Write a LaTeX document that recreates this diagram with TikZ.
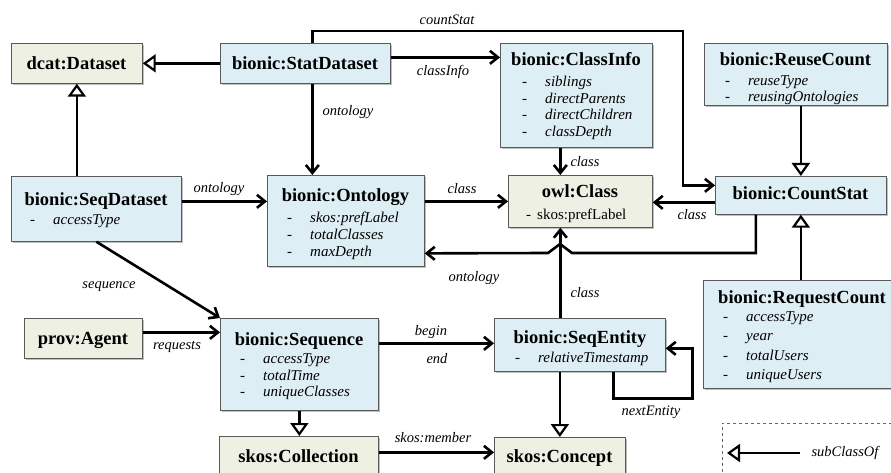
\documentclass[tikz,border=0pt]{standalone}
\usepackage{fontspec}
\setmainfont{Liberation Serif}
\usetikzlibrary{positioning,calc,arrows,arrows.meta,shadows}
\definecolor{clsgreen}{HTML}{EEF0E3}
\definecolor{clsblue}{HTML}{DEEEF5}
\newcommand{\att}[1]{\makebox[23pt][l]{-}\textit{#1}}
\tikzset{
	cls/.style={draw=black!65, line width=0.7pt, anchor=north west, inner sep=0pt,
		drop shadow={shadow xshift=1.5pt, shadow yshift=-1.5pt, opacity=0.25, fill=black}},
	gcls/.style={cls, fill=clsgreen},
	bcls/.style={cls, fill=clsblue},
	ttl/.style={font=\fontsize{18.5}{20}\selectfont\bfseries, anchor=base, inner sep=0pt},
	atts/.style={font=\fontsize{15}{16.5}\selectfont, align=left, anchor=north west, inner sep=0pt},
	lbl/.style={font=\fontsize{14.5}{16}\selectfont\itshape, inner sep=0pt},
	rel/.style={line width=2.6pt, -{Straight Barb[length=8pt,width=13pt]}},
	sub/.style={line width=2.6pt, -{Triangle[length=13pt,width=18pt,fill=white,line width=2.2pt]}},
}

\begin{document}
\begin{tikzpicture}[x=1pt, y=-1pt]
	\useasboundingbox (0,0) rectangle (891,473);
	\clip (0,0) rectangle (891,473);

	\node[gcls, minimum width=131, minimum height=40] (dataset) at (11,43) {};
	\node[bcls, minimum width=170, minimum height=40] (statds) at (220,43) {};
	\node[bcls, minimum width=152, minimum height=104] (classinfo) at (500,43) {};
	\node[bcls, minimum width=183, minimum height=62] (reusecount) at (704,43) {};
	\node[bcls, minimum width=170, minimum height=65] (seqds) at (11,176) {};
	\node[bcls, minimum width=157, minimum height=91] (ontology) at (267,175) {};
	\node[gcls, minimum width=144, minimum height=52] (owlclass) at (508,175) {};
	\node[bcls, minimum width=171, minimum height=38] (countstat) at (715,176) {};
	\node[bcls, minimum width=200, minimum height=108] (requestcount) at (703,280) {};
	\node[gcls, minimum width=118, minimum height=40] (agent) at (24,318) {};
	\node[bcls, minimum width=158, minimum height=92] (sequence) at (220,318) {};
	\node[bcls, minimum width=171, minimum height=53] (seqentity) at (494,318) {};
	\node[gcls, minimum width=159, minimum height=60] (collection) at (219,436) {};
	\node[gcls, minimum width=131, minimum height=60] (concept) at (494,437) {};
	\node[draw=black!60, line width=0.8pt, dashed, anchor=north west, minimum width=200, minimum height=70] (legend) at (722,423) {};

	\node[ttl] (dataset-t) at (76.5,70) {dcat:Dataset};
	\node[ttl] (statds-t) at (305,70) {bionic:StatDataset};
	\node[ttl] (classinfo-t) at (576,66) {bionic:ClassInfo};
	\node[ttl] (reusecount-t) at (795.5,66) {bionic:ReuseCount};
	\node[ttl] (seqds-t) at (96,206) {bionic:SeqDataset};
	\node[ttl] (ontology-t) at (345.5,202) {bionic:Ontology};
	\node[ttl] (owlclass-t) at (580,198) {owl:Class};
	\node[ttl] (countstat-t) at (800.5,200) {bionic:CountStat};
	\node[ttl] (requestcount-t) at (802,303) {bionic:RequestCount};
	\node[ttl] (agent-t) at (83,344) {prov:Agent};
	\node[ttl] (sequence-t) at (299,345) {bionic:Sequence};
	\node[ttl] (seqentity-t) at (580,343) {bionic:SeqEntity};
	\node[ttl] (collection-t) at (298.5,462) {skos:Collection};
	\node[ttl] (concept-t) at (559.5,462) {skos:Concept};

	\node[atts] (classinfo-a) at (522,76) {\att{siblings}\\ \att{directParents}\\ \att{directChildren}\\ \att{classDepth}};
	\node[atts] (reusecount-a) at (725,75) {\att{reuseType}\\ \att{reusingOntologies}};
	\node[atts] (seqds-a) at (30,214.5) {\att{accessType}};
	\node[atts, font=\fontsize{15}{17}\selectfont] (ontology-a) at (287,211.5) {\att{skos:prefLabel}\\ \att{totalClasses}\\ \att{maxDepth}};
	\node[atts] (owlclass-a) at (526,208.5) {-\hspace{6pt}skos:prefLabel};
	\node[atts, font=\fontsize{15}{19.3}\selectfont] (requestcount-a) at (723,311.5) {\att{accessType}\\ \att{year}\\ \att{totalUsers}\\ \att{uniqueUsers}};
	\node[atts] (sequence-a) at (240,353.5) {\att{accessType}\\ \att{totalTime}\\ \att{uniqueClasses}};
	\node[atts] (seqentity-a) at (515,351.5) {\att{relativeTimestamp}};

	\node[lbl] (l-countstat) at (447,20) {countStat};
	\node[lbl] (l-classinfo) at (443,72) {classInfo};
	\node[lbl] (l-onto1) at (348,112) {ontology};
	\node[lbl] (l-class1) at (585,162) {class};
	\node[lbl] (l-onto2) at (219,189) {ontology};
	\node[lbl] (l-class2) at (462,189) {class};
	\node[lbl] (l-class3) at (692,215) {class};
	\node[lbl] (l-onto3) at (474,278) {ontology};
	\node[lbl] (l-class4) at (585,293) {class};
	\node[lbl] (l-sequence) at (109,287) {sequence};
	\node[lbl] (l-requests) at (177,347) {requests};
	\node[lbl] (l-begin) at (431,332) {begin};
	\node[lbl] (l-end) at (437,359) {end};
	\node[lbl] (l-member) at (433,438) {skos:member};
	\node[lbl] (l-next) at (651,412) {nextEntity};
	\node[lbl] (l-sub) at (845,453) {subClassOf};

	\coordinate (cs-top) at (683,31);
	\coordinate (hop) at (560,253);

	\draw[sub] (statds.west) -- (dataset.east);
	\draw[sub] (dataset.south |- seqds.north) -- (dataset.south);
	\draw[sub] (reusecount.south -| countstat.north) -- (countstat.north);
	\draw[sub] (countstat.south |- requestcount.north) -- (countstat.south);
	\draw[sub] (sequence.south) -- (sequence.south |- collection.north);
	\draw[sub] (concept.north |- seqentity.south) -- (concept.north);
	\draw[sub] ([xshift=-11pt]l-sub.west) -- ([xshift=5pt]legend.west |- l-sub.west);

	\draw[rel] ([yshift=6pt]statds.east) -- ([yshift=6pt]statds.east -| classinfo.west);
	\draw[rel] ([xshift=7pt]statds.north) |- (cs-top) |- ([yshift=10pt]countstat.west);
	\draw[rel] ([xshift=7pt]statds.south) -- ([xshift=7pt]statds.south |- ontology.north);
	\draw[rel] ([xshift=-16pt]classinfo.south) -- ([xshift=-20pt]owlclass.north);
	\draw[rel] ([yshift=7.5pt]seqds.east) -- ([yshift=7.5pt]seqds.east -| ontology.west);
	\draw[rel] (owlclass.west -| ontology.east) -- (owlclass.west);
	\draw[rel] ([yshift=-7pt]countstat.west) -- ([yshift=-7pt]countstat.west -| owlclass.east);
	\draw[rel] ([xshift=-45pt]countstat.south) |- ([xshift=12pt]hop) -- ([yshift=9pt]hop) -- ([xshift=-12pt]hop) -- ([yshift=-32.5pt]ontology.east);
	\draw[rel] ([xshift=-20pt]owlclass.south |- seqentity.north) -- ([xshift=-20pt]owlclass.south);
	\draw[rel] (seqds.south) -- (sequence.north west);
	\draw[rel] ([yshift=6pt]agent.east) -- ([yshift=6pt]agent.east -| sequence.west);
	\draw[rel] ([yshift=21pt]sequence.east) -- ([yshift=21pt]sequence.east -| seqentity.west);
	\draw[rel] ([yshift=14pt]collection.east) -- ([yshift=14pt]collection.east -| concept.west);
	\draw[rel] ([xshift=33.5pt]seqentity.south) -- ++(0,27) -- ++(79,0) |- ([yshift=-3.5pt]seqentity.east);
\end{tikzpicture}
\end{document}
